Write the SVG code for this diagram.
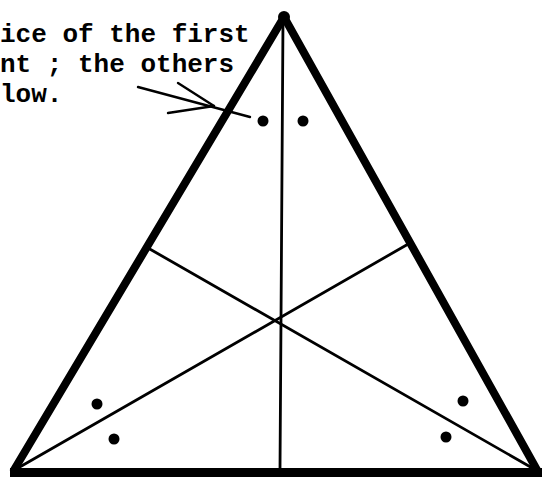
<svg xmlns="http://www.w3.org/2000/svg" width="542" height="477" viewBox="0 0 542 477">
<style>
.thick{stroke:#000;stroke-width:8;stroke-linecap:round;fill:none}
.thin{stroke:#000;stroke-width:2.8;stroke-linecap:round;fill:none}
.arr{stroke:#000;stroke-width:2.4;stroke-linecap:round;fill:none}
.dot{fill:#000}
.lbl{font-family:"Liberation Mono","DejaVu Sans Mono",monospace;font-size:26px;font-weight:bold;fill:#000}
</style>
<rect width="542" height="477" fill="#fff"/>
<g id="connectors">
<line class="thin" x1="283" y1="20" x2="280" y2="470"/>
<line class="thin" x1="18" y1="468" x2="410" y2="243"/>
<line class="thin" x1="534" y1="469" x2="148" y2="248"/>
<line class="arr" x1="138" y1="87" x2="250" y2="117"/>
<line class="arr" x1="178" y1="83" x2="214" y2="106"/>
<line class="arr" x1="168" y1="113" x2="214" y2="106"/>
</g>
<g id="triangle">
<line class="thick" x1="284" y1="17" x2="14" y2="470"/>
<line class="thick" x1="284" y1="17" x2="537" y2="470"/>
<line x1="10" y1="472.5" x2="542" y2="472.5" stroke="#000" stroke-width="9"/>
<circle class="dot" cx="284" cy="17" r="6"/>
</g>
<g id="dots">
<circle class="dot" cx="263" cy="121" r="5.5"/>
<circle class="dot" cx="303" cy="121" r="5.5"/>
<circle class="dot" cx="97" cy="404" r="5.5"/>
<circle class="dot" cx="114" cy="439" r="5.5"/>
<circle class="dot" cx="463" cy="401" r="5.5"/>
<circle class="dot" cx="446" cy="437" r="5.5"/>
</g>
<g id="label">
<text class="lbl" x="0" y="42">ice of the first</text>
<text class="lbl" x="0" y="72">nt ; the others</text>
<text class="lbl" x="0" y="102">low.</text>
</g>
</svg>
